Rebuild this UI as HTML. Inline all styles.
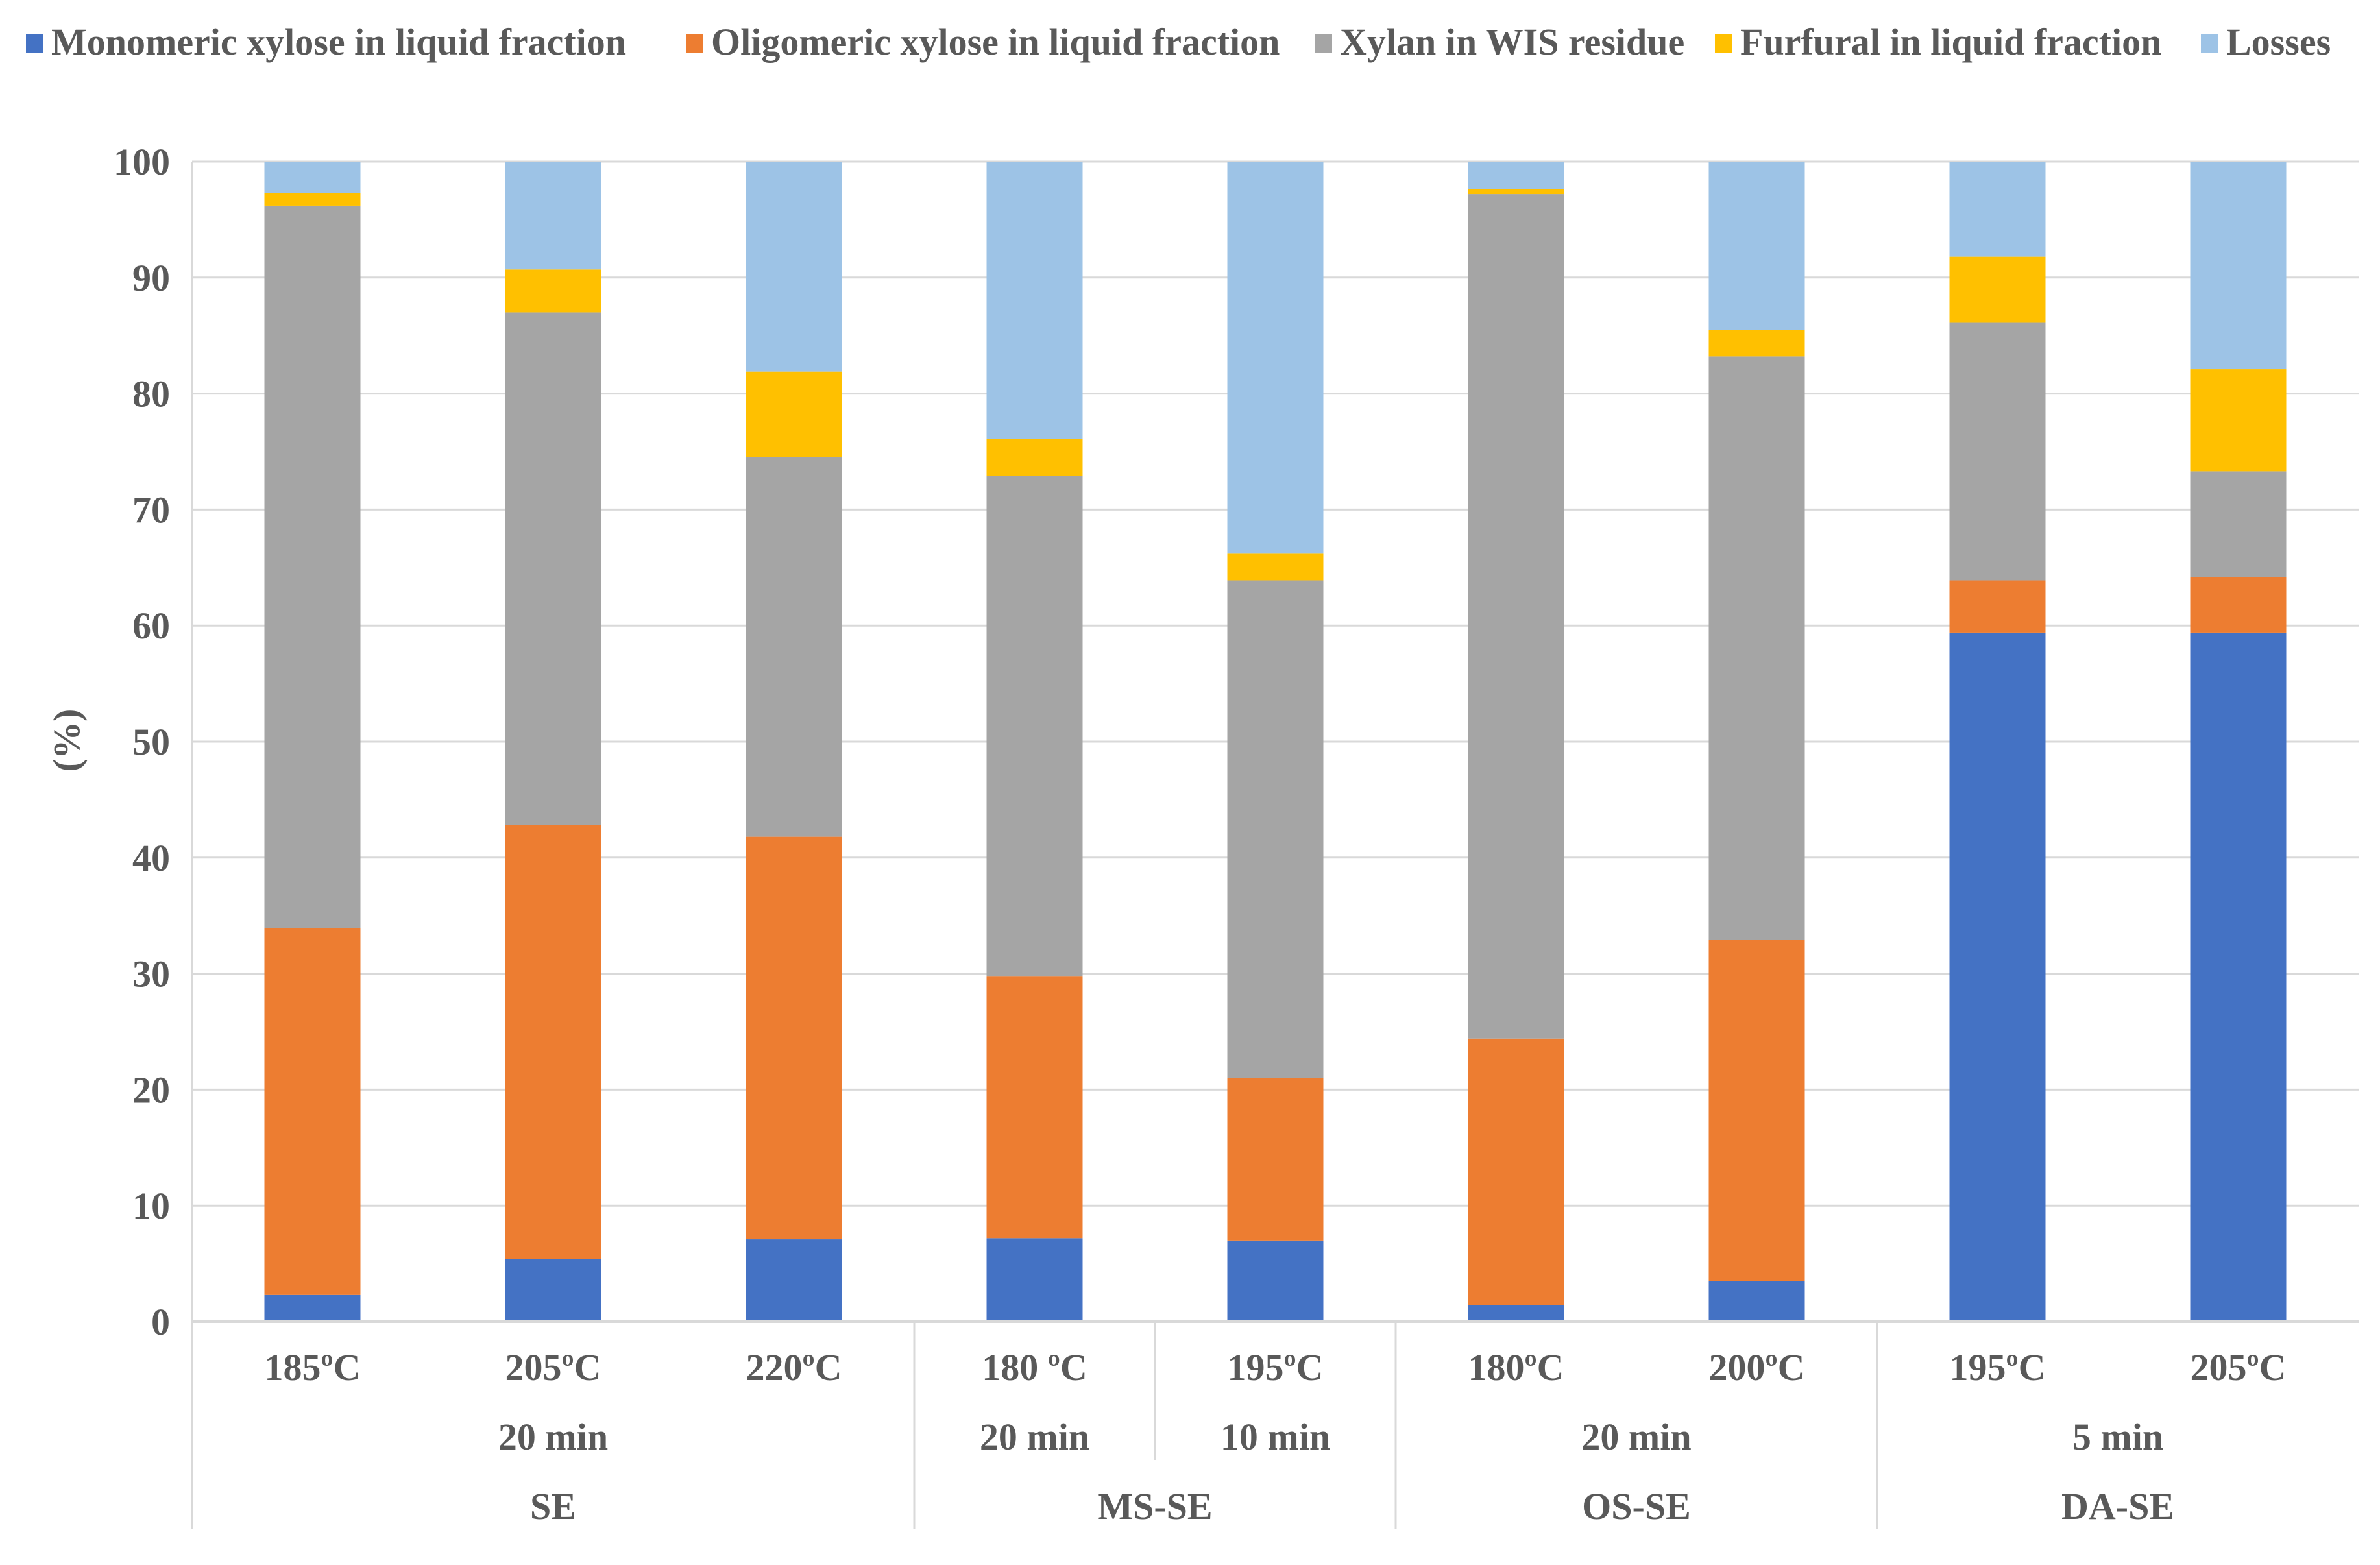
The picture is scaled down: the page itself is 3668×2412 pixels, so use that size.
<!DOCTYPE html>
<html><head><meta charset="utf-8"><style>
html,body{margin:0;padding:0;background:#fff;}
svg{display:block;}
text{font-family:"Liberation Serif",serif;font-weight:bold;fill:#595959;}
</style></head>
<body>
<svg id="chart" width="3668" height="2412" viewBox="0 0 3668 2412" xmlns="http://www.w3.org/2000/svg">
<g id="grid"></g>
<g id="bars"></g>
<g id="axes"></g>
<g id="legend"></g>
<text x="0" y="0" font-size="58" text-anchor="middle" transform="translate(122,1141) rotate(-90)">(%)</text>
</svg>
<script>
const categories = ["185ºC","205ºC","220ºC","180 ºC","195ºC","180ºC","200ºC","195ºC","205ºC"];
const seriesNames = ["Monomeric xylose in liquid fraction","Oligomeric xylose in liquid fraction","Xylan in WIS residue","Furfural in liquid fraction","Losses"];
const monomeric = [2.3,5.4,7.1,7.2,7.0,1.4,3.5,59.4,59.4];
const oligomeric = [31.6,37.4,34.7,22.6,14.0,23.0,29.4,4.5,4.8];
const xylan = [62.3,44.2,32.7,43.1,42.9,72.8,50.3,22.2,9.1];
const furfural = [1.1,3.7,7.4,3.2,2.3,0.4,2.3,5.7,8.8];
const losses = [2.7,9.3,18.1,23.9,33.8,2.4,14.5,8.2,17.9];
const yTicks = [0,10,20,30,40,50,60,70,80,90,100];
const timeLabels = [["20 min",0,3],["20 min",3,4],["10 min",4,5],["20 min",5,7],["5 min",7,9]];
const groupLabels = [["SE",0,3],["MS-SE",3,5],["OS-SE",5,7],["DA-SE",7,9]];

const colors = ["#4472C4","#ED7D31","#A5A5A5","#FFC000","#9DC3E6"];
const NS = "http://www.w3.org/2000/svg";
const left = 296, step = 371, y0 = 2037, y100 = 249, barW = 148;
const right = left + step * categories.length;
function yScale(v){ return y0 - (v/100)*(y0-y100); }
function xBand(i){ return left + step*i; }
function xCenter(i){ return left + step*(i+0.5); }
function mk(tag, attrs, parent){ const e=document.createElementNS(NS,tag); for(const k in attrs) e.setAttribute(k,attrs[k]); parent.appendChild(e); return e; }

const grid = document.getElementById('grid');
yTicks.forEach(t=>{
  const l = mk('line',{x1:left,x2:right,y1:yScale(t),y2:yScale(t),stroke:'#d9d9d9','stroke-width':3},grid);
  
  
  const tx = mk('text',{x:262,y:yScale(t)+20,'font-size':58,'text-anchor':'end'},grid);
  tx.textContent = t;
  
  
});

const series = [monomeric,oligomeric,xylan,furfural,losses];
const bars = document.getElementById('bars');
categories.forEach((c,i)=>{
  let acc = 0;
  series.forEach((s,k)=>{
    const top = acc + s[i];
    const r = mk('rect',{x:xCenter(i)-barW/2,y:yScale(top),width:barW,height:yScale(acc)-yScale(top),fill:colors[k]},bars);
    
    
    acc = top;
  });
});

const axes = document.getElementById('axes');
const bottom = 2357, lvl2 = 2250;
[0,3,5,7].forEach(k=>{
  const l = mk('line',{x1:xBand(k),x2:xBand(k),y1:(k===0?y100:y0),y2:bottom,stroke:'#d9d9d9','stroke-width':3},axes);
  
  
});
const sep = mk('line',{x1:xBand(4),x2:xBand(4),y1:y0,y2:lvl2,stroke:'#d9d9d9','stroke-width':3},axes);


const xl = mk('line',{x1:left,x2:right,y1:y0,y2:y0,stroke:'#d9d9d9','stroke-width':4},axes);



categories.forEach((c,i)=>{
  const t = mk('text',{x:xCenter(i),y:2127,'font-size':58,'text-anchor':'middle'},axes);
  t.textContent = c;
  
  
});
timeLabels.forEach(([s,a,b])=>{
  const t = mk('text',{x:(xBand(a)+xBand(b))/2,y:2234,'font-size':58,'text-anchor':'middle'},axes);
  t.textContent = s;
  
  
});
groupLabels.forEach(([s,a,b])=>{
  const t = mk('text',{x:(xBand(a)+xBand(b))/2,y:2341,'font-size':58,'text-anchor':'middle'},axes);
  t.textContent = s;
  
  
});

const legend = document.getElementById('legend');
const legX = [40,1057,2026,2643,3392];
seriesNames.forEach((n,k)=>{
  const r = mk('rect',{x:legX[k],y:52,width:27,height:30,fill:colors[k]},legend);
  
  
  const t = mk('text',{x:legX[k]+39,y:84,'font-size':58},legend);
  t.textContent = n;
  
  
});
</script>
</body></html>
